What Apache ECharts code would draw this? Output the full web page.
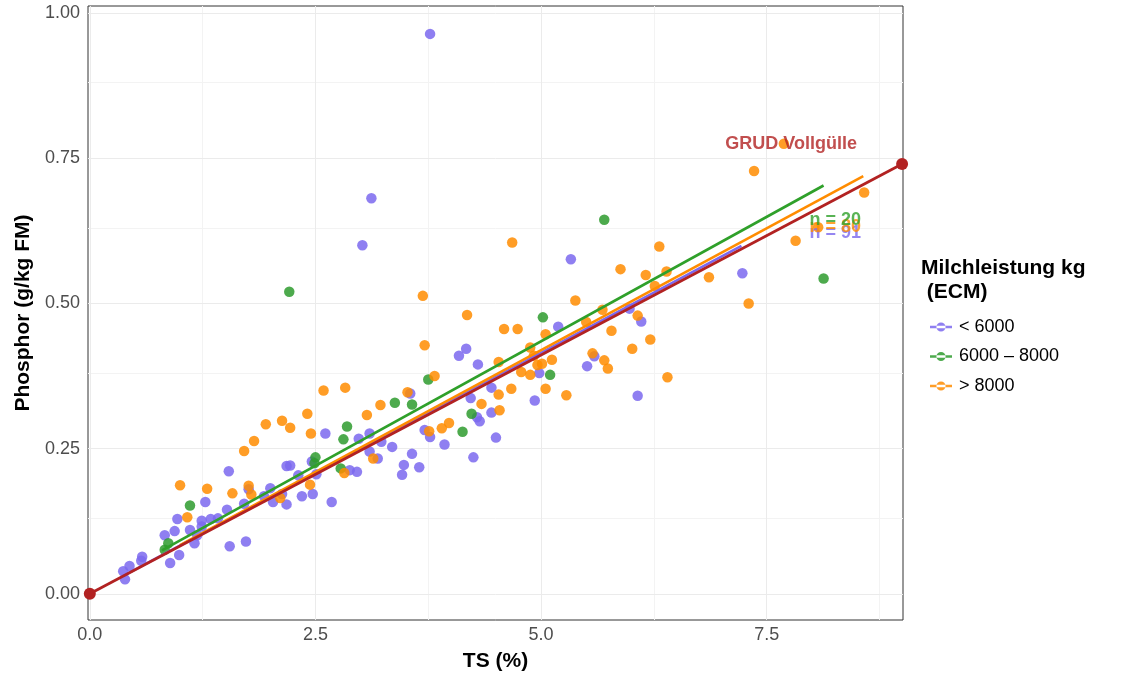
<!DOCTYPE html>
<html>
<head>
<meta charset="utf-8">
<script src="https://cdn.jsdelivr.net/npm/echarts@6/dist/echarts.min.js"></script>
<style>
  html, body { margin: 0; padding: 0; background: #fff; }
  #chart { width: 1122px; height: 677px; }
</style>
</head>
<body>
<div id="chart"></div>
<script>
// Phosphorus content vs. dry matter (TS) of cattle slurry, grouped by milk yield

const groupNames = ['< 6000', '6000 \u2013 8000', '> 8000'];

// < 6000 kg ECM : [TS %, P g/kg FM]
const tsLow = [3.77, 3.12, 3.02, 5.33, 7.23, 5.19, 5.98, 6.11, 4.09, 4.17, 4.30, 5.59, 5.51, 4.98, 4.93, 6.07,
  4.22, 4.45, 4.45, 4.29, 4.32, 4.50, 4.25, 3.93, 3.71, 3.77, 3.55, 3.57, 3.48, 3.65, 3.46, 3.10,
  2.98, 3.23, 3.35, 3.19, 3.10, 2.96, 2.88, 2.61, 2.46, 2.51, 2.31, 2.18, 2.22, 2.68, 2.47, 2.35,
  2.18, 2.13, 2.03, 1.93, 2.00, 1.76, 1.71, 1.54, 1.52, 1.42, 1.34, 1.24, 1.28, 1.24, 1.19, 1.16,
  1.11, 0.97, 0.94, 0.83, 0.99, 0.89, 0.58, 0.57, 0.44, 0.37, 0.39, 1.55, 1.73];
const pLow = [0.964, 0.681, 0.600, 0.576, 0.552, 0.460, 0.491, 0.469, 0.410, 0.422, 0.395, 0.409, 0.392, 0.380, 0.333, 0.341,
  0.337, 0.355, 0.312, 0.304, 0.297, 0.269, 0.235, 0.257, 0.282, 0.270, 0.345, 0.241, 0.222, 0.218, 0.205, 0.276,
  0.267, 0.262, 0.253, 0.233, 0.245, 0.210, 0.213, 0.276, 0.228, 0.206, 0.204, 0.220, 0.221, 0.158, 0.172, 0.168,
  0.154, 0.172, 0.158, 0.168, 0.182, 0.180, 0.155, 0.211, 0.145, 0.130, 0.129, 0.126, 0.158, 0.116, 0.101, 0.087,
  0.110, 0.129, 0.108, 0.101, 0.067, 0.053, 0.064, 0.057, 0.048, 0.039, 0.025, 0.082, 0.090];

// 6000 - 8000 kg ECM
const tsMid = [1.11, 0.87, 0.83, 2.21, 2.50, 2.49, 2.78, 2.81, 2.85, 3.38, 3.57, 3.75, 4.13, 4.23, 5.02, 5.10, 5.70, 8.13];
const pMid = [0.152, 0.087, 0.076, 0.520, 0.235, 0.225, 0.216, 0.266, 0.288, 0.329, 0.326, 0.369, 0.279, 0.310, 0.476, 0.377, 0.644, 0.543];

// > 8000 kg ECM
const tsHigh = [1.00, 1.30, 1.08, 1.58, 1.76, 1.79, 1.71, 1.82, 1.95, 2.13, 2.22, 2.41, 2.45, 2.59, 2.83, 2.11,
  2.44, 2.82, 3.07, 3.22, 3.52, 3.71, 3.69, 3.82, 3.14, 3.76, 3.90, 3.98, 4.18, 4.34, 4.54, 4.53,
  4.53, 4.59, 4.74, 4.67, 4.78, 4.88, 4.88, 5.05, 4.92, 4.96, 5.01, 5.12, 5.05, 5.28, 5.38, 4.68,
  5.50, 5.57, 5.70, 5.74, 5.68, 5.78, 5.88, 6.01, 6.07, 6.16, 6.21, 6.31, 6.39, 6.40, 6.26, 6.86,
  7.30, 7.36, 7.69, 7.82, 8.07, 8.58];
const pHigh = [0.187, 0.181, 0.132, 0.173, 0.186, 0.171, 0.246, 0.263, 0.292, 0.298, 0.286, 0.310, 0.276, 0.350, 0.355, 0.165,
  0.188, 0.208, 0.308, 0.325, 0.347, 0.428, 0.513, 0.375, 0.233, 0.280, 0.285, 0.294, 0.480, 0.327, 0.316, 0.343,
  0.399, 0.456, 0.456, 0.353, 0.382, 0.377, 0.424, 0.447, 0.410, 0.394, 0.396, 0.403, 0.353, 0.342, 0.505, 0.605,
  0.468, 0.414, 0.402, 0.388, 0.489, 0.453, 0.559, 0.422, 0.479, 0.549, 0.438, 0.598, 0.555, 0.373, 0.530, 0.545,
  0.500, 0.728, 0.775, 0.608, 0.631, 0.691];

// fitted regression lines per group: [start, end] as [TS, P]
const fitLow = [[0.37, 0.031], [7.22, 0.599]];
const fitMid = [[0.80, 0.075], [8.13, 0.703]];
const fitHigh = [[1.00, 0.084], [8.57, 0.719]];

// GRUD reference line for whole slurry (Vollgülle)
const grudLine = [[0, 0], [9, 0.74]];

// group sizes
const nLabels = ['n = 91', 'n = 20', 'n = 80'];

// axis ticks
const xTicks = [0, 2.5, 5, 7.5];
const yTicks = [0, 0.25, 0.5, 0.75, 1.0];
const xMinor = [1.25, 3.75, 6.25, 8.75];
const yMinor = [0.125, 0.375, 0.625, 0.875];

const colors = ['#7B68EE', '#2E9B2E', '#FF8C00'];
const lineColors = ['#7B68EE', '#2FA02A', '#FF8C00'];
const grudColor = '#B22222';
const FONT = '"Liberation Sans", Arial, sans-serif';

function zip(xs, ys) { return xs.map((x, i) => [x, ys[i]]); }

const majorStyle = { color: '#ebebeb', width: 1, type: 'solid' };
const minorStyle = { color: '#f3f3f3', width: 1, type: 'solid' };
const gridLines = []
  .concat(xMinor.map(v => ({ xAxis: v, lineStyle: minorStyle })))
  .concat(yMinor.map(v => ({ yAxis: v, lineStyle: minorStyle })))
  .concat(xTicks.map(v => ({ xAxis: v, lineStyle: majorStyle })))
  .concat(yTicks.map(v => ({ yAxis: v, lineStyle: majorStyle })));

function scatterSeries(i, data) {
  return {
    name: groupNames[i], type: 'scatter', data: data, symbol: 'circle', symbolSize: 10.5,
    itemStyle: { color: colors[i], opacity: 0.85 }, z: 3, clip: false, silent: true
  };
}
function fitSeries(i, data) {
  return {
    name: 'fit' + i, type: 'line', data: data, showSymbol: false, symbol: 'none',
    lineStyle: { color: lineColors[i], width: 2.6 }, z: 4, silent: true
  };
}
function nLabelSeries(i, pos) {
  return {
    name: 'n' + i, type: 'scatter', symbolSize: 1, z: 6, silent: true,
    itemStyle: { color: 'rgba(0,0,0,0)' },
    data: [{ value: pos, label: { show: true, position: 'inside', formatter: nLabels[i],
      color: lineColors[i], fontSize: 18, fontWeight: 'bold', fontFamily: FONT } }]
  };
}

const chart = echarts.init(document.getElementById('chart'), null, { renderer: 'canvas' });

const option = {
  animation: false,
  backgroundColor: '#ffffff',
  textStyle: { fontFamily: FONT },
  grid: { left: 88, right: 219, top: 6, bottom: 55, show: true, borderColor: '#333333', borderWidth: 1, backgroundColor: '#ffffff' },
  xAxis: {
    type: 'value', min: -0.02, max: 9.01,
    splitLine: { show: false }, axisLine: { show: false }, axisTick: { show: false },
    axisLabel: { customValues: xTicks, formatter: v => v.toFixed(1), color: '#4d4d4d', fontSize: 18, margin: 6, fontFamily: FONT },
    name: 'TS (%)', nameLocation: 'middle', nameGap: 31,
    nameTextStyle: { fontWeight: 'bold', fontSize: 21, color: '#000', fontFamily: FONT }
  },
  yAxis: {
    type: 'value', min: -0.045, max: 1.012,
    splitLine: { show: false }, axisLine: { show: false }, axisTick: { show: false },
    axisLabel: { customValues: yTicks, formatter: v => v.toFixed(2), color: '#4d4d4d', fontSize: 18, margin: 8, fontFamily: FONT },
    name: 'Phosphor (g/kg FM)', nameLocation: 'middle', nameGap: 48,
    nameTextStyle: { fontWeight: 'bold', fontSize: 21, color: '#000', fontFamily: FONT }
  },
  legend: {
    data: groupNames, orient: 'vertical', left: 925, top: 313, itemWidth: 22, itemHeight: 12, itemGap: 11.5,
    selectedMode: false,
    icon: 'path://M0,4.7H24V7.3H0Z M7,6A5,5 0 1,0 17,6A5,5 0 1,0 7,6Z',
    textStyle: { fontSize: 18, color: '#000', fontFamily: FONT, padding: [0, 0, 0, 2] }
  },
  graphic: [{
    type: 'text', left: 921, top: 256,
    style: { text: 'Milchleistung kg\n (ECM)', font: 'bold 21px "Liberation Sans", Arial, sans-serif', fill: '#000', lineHeight: 24 }
  }],
  series: [
    { name: 'gridlines', type: 'scatter', data: [], silent: true, z: 1,
      markLine: { silent: true, z: 1, symbol: ['none', 'none'], label: { show: false }, animation: false,
        lineStyle: { type: 'solid' }, emphasis: { disabled: true }, data: gridLines } },
    scatterSeries(0, zip(tsLow, pLow)),
    scatterSeries(1, zip(tsMid, pMid)),
    scatterSeries(2, zip(tsHigh, pHigh)),
    fitSeries(0, fitLow),
    fitSeries(2, fitHigh),
    fitSeries(1, fitMid),
    { name: 'GRUD', type: 'line', data: grudLine, symbol: 'circle', symbolSize: 12, showSymbol: true, clip: false,
      lineStyle: { color: grudColor, width: 2.8 }, itemStyle: { color: grudColor }, z: 5, silent: true },
    { name: 'GRUD label', type: 'scatter', symbolSize: 1, z: 6, silent: true, itemStyle: { color: 'rgba(0,0,0,0)' },
      data: [{ value: [7.77, 0.774], label: { show: true, position: 'inside', formatter: 'GRUD Vollg\u00fclle',
        color: grudColor, fontSize: 18, fontWeight: 'bold', fontFamily: FONT } }] },
    nLabelSeries(0, [8.26, 0.621]),
    nLabelSeries(2, [8.26, 0.631]),
    nLabelSeries(1, [8.26, 0.643])
  ]
};

chart.setOption(option);
</script>
</body>
</html>
